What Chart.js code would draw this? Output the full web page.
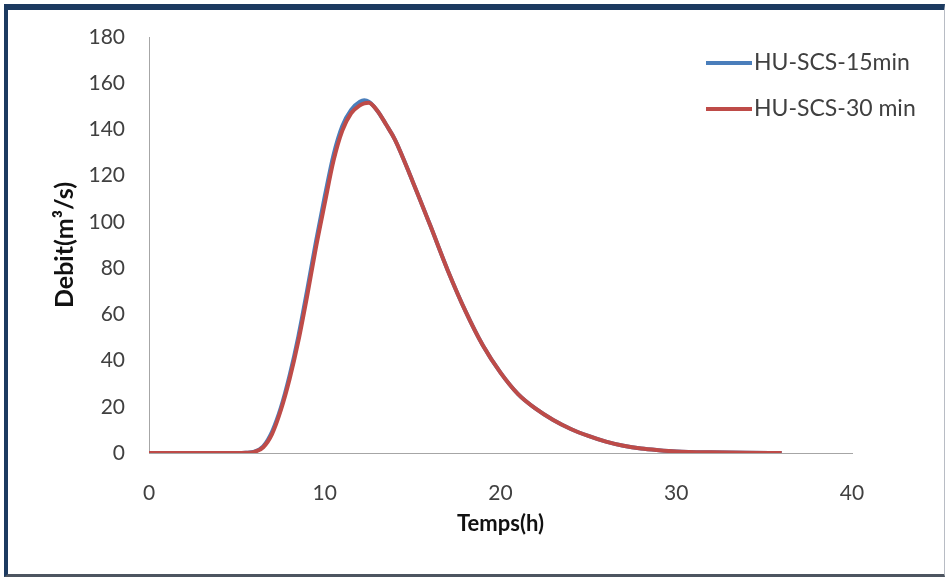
<!DOCTYPE html>
<html>
<head>
<meta charset="utf-8">
<title>Hydrogramme HU-SCS</title>
<script src="https://cdn.jsdelivr.net/npm/chart.js@4.4.1/dist/chart.umd.min.js"></script>
<style>
  html, body { margin: 0; padding: 0; background: #fff; width: 947px; height: 578px; overflow: hidden; }
  #frame {
    position: absolute; left: 4px; top: 4px; width: 941px; height: 573px; box-sizing: border-box;
    border-top: 6px solid #1c3a60; border-left: 4px solid #1c3a60;
    border-right: 1px solid #b8bcc4; border-bottom: 3px solid #4d5560; background: #fff;
  }
  #chart { position: absolute; left: 0; top: 0; }
</style>
</head>
<body>
<div id="frame"></div>
<canvas id="chart" width="947" height="578"></canvas>
<script>
// Time (h) of each hydrograph ordinate
const hours = [0, 2, 4, 5, 5.5, 6, 6.5, 7, 7.5, 8, 8.5, 9, 9.5, 10, 10.5, 11, 11.5, 12, 12.25, 12.5, 13, 13.5, 14,
               15, 16, 17, 18, 19, 20, 21, 22, 23, 24, 25, 26, 27, 28, 29, 30, 32, 34, 36];

// Discharge (m3/s), unit hydrograph SCS with 15 min time step
const flow15 = [0, 0, 0, 0, 0.1, 0.6, 2.9, 9.2, 19.5, 33.5, 50.5, 70.5, 91.5, 111, 129, 141.5, 148.5, 152, 152.6, 152, 148, 142, 135.5,
                117.5, 98.5, 79, 61.5, 46.5, 34.8, 25.5, 19.2, 14.3, 10.4, 7.4, 4.9, 3.1, 1.9, 1.2, 0.7, 0.3, 0.1, 0];

// Discharge (m3/s), unit hydrograph SCS with 30 min time step
const flow30 = [0, 0, 0, 0, 0.1, 0.5, 2.5, 8.2, 18.5, 32, 48.5, 68, 89, 108, 126.5, 139.5, 147, 150.4, 151.3, 151.5, 148, 142, 135.5,
                117.5, 98.5, 79, 61.5, 46.5, 34.8, 25.5, 19.2, 14.3, 10.4, 7.4, 4.9, 3.1, 1.9, 1.2, 0.7, 0.3, 0.1, 0];

const seriesNames = ['HU-SCS-15min', 'HU-SCS-30 min'];
const xTickValues = [0, 10, 20, 30, 40];
const yTickValues = [0, 20, 40, 60, 80, 100, 120, 140, 160, 180];

const textColor = '#404040';
const fontFamily = 'Lato, "Open Sans", sans-serif';

// Legend drawn at the upper right, over the plot area
const sideLegend = {
  id: 'sideLegend',
  afterDraw(chart, args, opts) {
    const ctx = chart.ctx;
    chart.data.datasets.forEach((ds, i) => {
      const y = opts.top + i * opts.rowGap;
      ctx.save();
      ctx.strokeStyle = ds.borderColor;
      ctx.lineWidth = 4;
      ctx.beginPath();
      ctx.moveTo(opts.left, y);
      ctx.lineTo(opts.left + opts.lineLen, y);
      ctx.stroke();
      ctx.fillStyle = textColor;
      ctx.font = opts.font;
      ctx.textBaseline = 'middle';
      ctx.fillText(ds.label, opts.left + opts.lineLen + 2, y);
      ctx.restore();
    });
  }
};

const pairs = (xs, ys) => xs.map((x, i) => ({ x: x, y: ys[i] }));

new Chart(document.getElementById('chart'), {
  type: 'line',
  data: {
    datasets: [
      { label: seriesNames[0], data: pairs(hours, flow15), borderColor: '#4a7ebb', order: 1 },
      { label: seriesNames[1], data: pairs(hours, flow30), borderColor: '#be4b48', order: 0 }
    ]
  },
  options: {
    responsive: false,
    animation: false,
    layout: { padding: { left: 0, top: 37, right: 95, bottom: 0 } },
    elements: {
      line: { borderWidth: 4, cubicInterpolationMode: 'monotone', fill: false },
      point: { radius: 0, hoverRadius: 0 }
    },
    plugins: {
      legend: { display: false },
      tooltip: { enabled: false },
      sideLegend: { left: 706, top: 63, rowGap: 46, lineLen: 46, font: '23px ' + fontFamily }
    },
    scales: {
      x: {
        type: 'linear', min: 0, max: 40,
        afterBuildTicks: s => { s.ticks = xTickValues.map(v => ({ value: v })); },
        afterFit: s => { s.height = 125; },
        grid: { display: false, drawTicks: false },
        border: { display: true, color: '#a6a6a6', width: 1 },
        ticks: { color: textColor, padding: 28, maxRotation: 0, font: { family: fontFamily, size: 21 } },
        title: { display: true, text: 'Temps(h)', color: '#111', padding: { top: 0, bottom: 41 },
                 font: { family: fontFamily, size: 22, weight: 'bold' } }
      },
      y: {
        type: 'linear', min: 0, max: 180,
        afterBuildTicks: s => { s.ticks = yTickValues.map(v => ({ value: v })); },
        afterFit: s => { s.width = 149; },
        grid: { display: false, drawTicks: false },
        border: { display: true, color: '#a6a6a6', width: 1 },
        ticks: { color: textColor, padding: 24, font: { family: fontFamily, size: 21 } },
        title: { display: true, text: 'Debit(m\u00b3/s)', color: '#111', padding: { top: 50, bottom: 0 },
                 font: { family: fontFamily, size: 25, weight: 'bold' } }
      }
    }
  },
  plugins: [sideLegend]
});
</script>
</body>
</html>
